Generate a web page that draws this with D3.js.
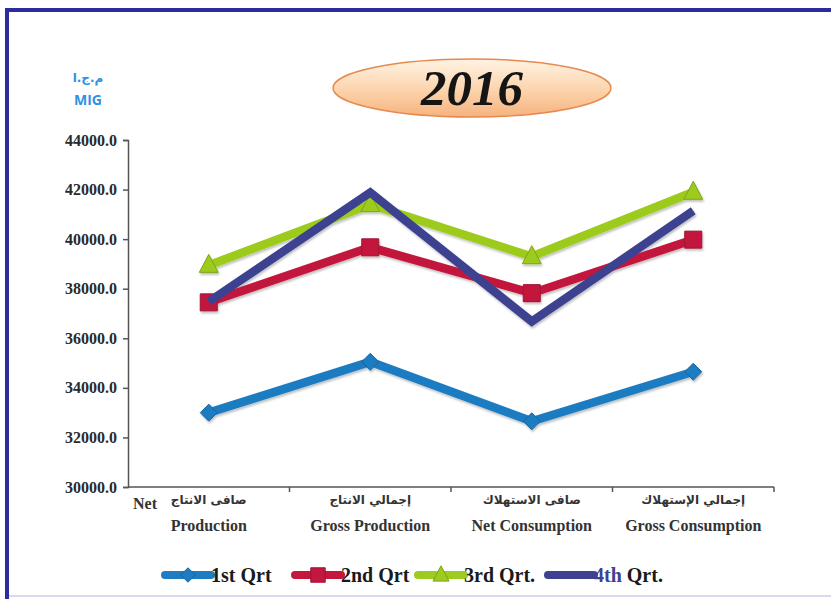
<!DOCTYPE html>
<html>
<head>
<meta charset="utf-8">
<title>2016</title>
<style>
  body { margin: 0; background: #fff; }
  text { font-family: "Liberation Serif", "DejaVu Serif", serif; }
</style>
</head>
<body>
<svg id="chart" xmlns="http://www.w3.org/2000/svg"></svg>
<script src="https://d3js.org/d3.v7.min.js"></script>
<script>

const width = 831;
const height = 599;

// categories (arabic line, english line)
const catsAr = ["صافى الانتاج", "إجمالي الانتاج", "صافى الاستهلاك", "إجمالي الإستهلاك"];
const catsEn = ["Production", "Gross Production", "Net Consumption", "Gross Consumption"];

// series
const seriesNames = ["1st Qrt", "2nd Qrt", "3rd Qrt.", "4th Qrt."];
const q1 = [33000, 35050, 32650, 34650];
const q2 = [37450, 39670, 37820, 39980];
const q3 = [38950, 41400, 39300, 41900];
const q4 = [37470, 41880, 36680, 41150];

const yTicks = [30000, 32000, 34000, 36000, 38000, 40000, 42000, 44000];

const colors = ["#1f7cc2", "#c3173e", "#9dcb1f", "#3e4290"];
const markers = ["diamond", "square", "triangle", "none"];

const svg = d3.select("#chart")
    .attr("width", width)
    .attr("height", height);

const defs = svg.append("defs");
const grad = defs.append("linearGradient")
    .attr("id", "ovalFill")
    .attr("x1", 0).attr("y1", 0).attr("x2", 0).attr("y2", 1);
grad.append("stop").attr("offset", "0%").attr("stop-color", "#fff3e4");
grad.append("stop").attr("offset", "55%").attr("stop-color", "#fcd3ab");
grad.append("stop").attr("offset", "100%").attr("stop-color", "#f6b27e");

const shadow = defs.append("filter").attr("id", "shadow")
    .attr("x", "-10%").attr("y", "-10%").attr("width", "120%").attr("height", "130%");
shadow.append("feDropShadow")
    .attr("dx", 1).attr("dy", 2).attr("stdDeviation", 1.2)
    .attr("flood-color", "#000").attr("flood-opacity", 0.25);

// frame
svg.append("line").attr("x1", 7).attr("x2", width).attr("y1", 10).attr("y2", 10)
    .attr("stroke", "#2c2c9c").attr("stroke-width", 4);
svg.append("line").attr("x1", 7).attr("x2", 7).attr("y1", 8).attr("y2", height)
    .attr("stroke", "#2c2c9c").attr("stroke-width", 4);
svg.append("line").attr("x1", 9).attr("x2", width).attr("y1", 596).attr("y2", 596)
    .attr("stroke", "#d8d8f0").attr("stroke-width", 2);

// title oval
svg.append("ellipse")
    .attr("cx", 472).attr("cy", 88).attr("rx", 139).attr("ry", 29)
    .attr("fill", "url(#ovalFill)")
    .attr("stroke", "#e58a4c").attr("stroke-width", 1.5);
svg.append("text")
    .attr("x", 472).attr("y", 105)
    .attr("text-anchor", "middle")
    .attr("font-size", 51).attr("font-weight", "bold").attr("font-style", "italic")
    .attr("fill", "#151515")
    .text("2016");

// unit
svg.append("text")
    .attr("x", 88).attr("y", 82)
    .attr("text-anchor", "middle")
    .attr("direction", "rtl")
    .style("font-family", "'DejaVu Sans', sans-serif")
    .attr("font-size", 12).attr("font-weight", "bold")
    .attr("fill", "#2d92e2")
    .text("م.ج.ا");
svg.append("text")
    .attr("x", 88).attr("y", 105)
    .attr("text-anchor", "middle")
    .style("font-family", "'Open Sans', 'DejaVu Sans', sans-serif")
    .attr("font-size", 14).attr("font-weight", "bold")
    .attr("fill", "#2d92e2")
    .text("MIG");

const x = d3.scaleBand().domain(catsEn).range([128, 774]);
const y = d3.scaleLinear().domain([30000, 44000]).range([487, 140]);

// y axis
const yAxis = svg.append("g")
    .attr("transform", `translate(${x.range()[0]},0)`)
    .call(d3.axisLeft(y).tickValues(yTicks).tickFormat(d3.format(".1f")).tickSize(5).tickPadding(6));
yAxis.select(".domain").attr("stroke", "#555").attr("stroke-width", 1.5);
yAxis.selectAll(".tick line").attr("stroke", "#555").attr("stroke-width", 1.5);
yAxis.selectAll(".tick text")
    .style("font-family", "'Liberation Serif', serif")
    .style("font-size", "16px").style("font-weight", "bold").attr("fill", "#2a2a2a");

// x axis
const xAxisG = svg.append("g").attr("transform", `translate(0,${y.range()[0]})`);
xAxisG.append("line")
    .attr("x1", x.range()[0]).attr("x2", x.range()[1])
    .attr("stroke", "#555").attr("stroke-width", 1.5);
xAxisG.selectAll("line.tk")
    .data(catsEn)
    .join("line")
      .attr("class", "tk")
      .attr("x1", d => x(d) + x.bandwidth()).attr("x2", d => x(d) + x.bandwidth())
      .attr("y1", 0).attr("y2", 5)
      .attr("stroke", "#555").attr("stroke-width", 1.5);

svg.append("g")
    .selectAll("text")
    .data(catsAr)
    .join("text")
      .attr("x", (d, i) => x(catsEn[i]) + x.bandwidth() / 2)
      .attr("y", 504)
      .attr("text-anchor", "middle")
      .attr("direction", "rtl")
      .style("font-family", "'DejaVu Sans', sans-serif")
      .attr("font-size", 12).attr("font-weight", "bold").attr("fill", "#333")
      .text(d => d);

svg.append("g")
    .selectAll("text")
    .data(catsEn)
    .join("text")
      .attr("x", d => x(d) + x.bandwidth() / 2)
      .attr("y", 531)
      .attr("text-anchor", "middle")
      .attr("font-size", 16).attr("font-weight", "bold").attr("fill", "#333")
      .text(d => d);

svg.append("text")
    .attr("x", 145).attr("y", 509)
    .attr("text-anchor", "middle")
    .attr("font-size", 16).attr("font-weight", "bold").attr("fill", "#333")
    .text("Net");

// marker shapes
function markerPath(type, s) {
  if (type === "diamond") return `M0,${-s}L${s},0L0,${s}L${-s},0Z`;
  if (type === "square") return `M${-s},${-s}H${s}V${s}H${-s}Z`;
  if (type === "triangle") return `M0,${-s * 1.2}L${s * 1.05},${s * 0.8}H${-s * 1.05}Z`;
  return "";
}
const markerSize = [8.5, 8.5, 9, 0];

const data = [q1, q2, q3, q4];
const line = d3.line()
    .x((d, i) => x(catsEn[i]) + x.bandwidth() / 2)
    .y(d => y(d));

const plot = svg.append("g").attr("filter", "url(#shadow)");
data.forEach((vals, si) => {
  const g = plot.append("g");
  g.append("path")
      .attr("d", line(vals))
      .attr("fill", "none")
      .attr("stroke", colors[si])
      .attr("stroke-width", 8.5)
      .attr("stroke-linejoin", "miter");
  if (markers[si] !== "none") {
    g.selectAll("path.mk")
      .data(vals)
      .join("path")
        .attr("class", "mk")
        .attr("transform", (d, i) => `translate(${x(catsEn[i]) + x.bandwidth() / 2},${y(d)})`)
        .attr("d", markerPath(markers[si], markerSize[si]))
        .attr("fill", colors[si])
        .attr("stroke", d3.color(colors[si]).darker(0.6))
        .attr("stroke-width", 1);
  }
});

// legend
const legX = [165, 295, 418, 548];
const leg = svg.append("g");
seriesNames.forEach((name, si) => {
  const g = leg.append("g").attr("transform", `translate(${legX[si]},575)`);
  g.append("line")
      .attr("x1", 0).attr("x2", 46)
      .attr("stroke", colors[si]).attr("stroke-width", 8)
      .attr("stroke-linecap", "round");
  if (markers[si] !== "none") {
    g.append("path")
        .attr("transform", "translate(23,0)")
        .attr("d", markerPath(markers[si], markerSize[si] * 0.85))
        .attr("fill", colors[si])
        .attr("stroke", d3.color(colors[si]).darker(0.6));
  }
  const t = g.append("text")
      .attr("x", 46).attr("y", 7)
      .attr("font-size", 20).attr("font-weight", "bold").attr("fill", "#1a1a1a");
  if (si === 3) {
    t.append("tspan").attr("fill", colors[3]).text("4th");
    t.append("tspan").text(" Qrt.");
  } else {
    t.text(name);
  }
});

</script>
</body>
</html>
